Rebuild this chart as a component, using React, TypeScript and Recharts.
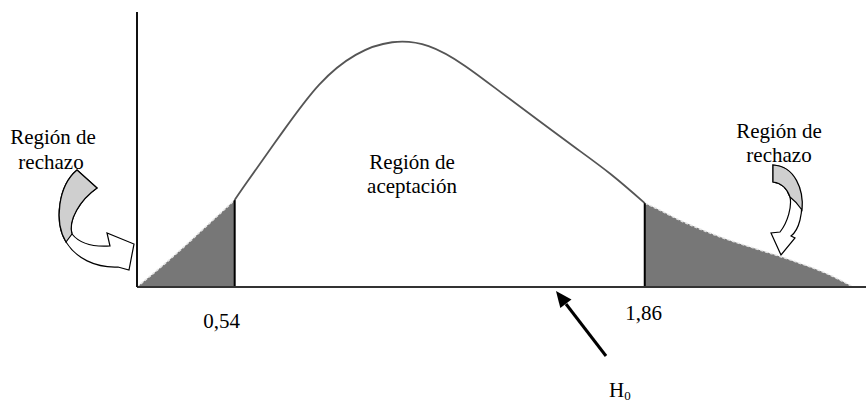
import {
  Area,
  ComposedChart,
  Line,
  ReferenceLine,
  XAxis,
  YAxis,
} from "recharts"

// position along the axis (abstract units) and curve height
const xs = [0, 1, 2, 2.68, 3, 4, 5, 6, 7, 8, 9, 10, 11, 12, 13, 13.93, 14, 15, 16, 17, 18, 19, 19.65]
const density = [0, 11.2, 23.3, 31.6, 37.8, 56.5, 73.6, 84.4, 89.0, 87.6, 80.4, 70.6, 60.7, 50.9, 41.0, 30.5, 30.1, 23.6, 18.2, 13.8, 9.5, 4.4, 0]

// critical values
const cutoffX = [2.68, 13.93]
const cutoffLabels = ["0,54", "1,86"]

const FONT = "'Liberation Serif', 'DejaVu Serif', serif"
const W = 866
const H = 405

const rows = xs.map((x, i) => ({
  x,
  left: x <= cutoffX[0] ? density[i] : null,
  mid: x >= cutoffX[0] && x <= cutoffX[1] ? density[i] : null,
  right: x >= cutoffX[1] ? density[i] : null,
}))

const heightAt = (x: number) => density[xs.indexOf(x)]

// small per-label nudges so the numbers sit where the original put them
const tickNudge = [
  { dx: -13, dy: 41 },
  { dx: -1, dy: 33 },
]

function CutoffTick(props: any) {
  const { x, y, index } = props
  const n = tickNudge[index] ?? { dx: 0, dy: 36 }
  return (
    <text
      x={x + n.dx}
      y={y + n.dy}
      textAnchor="middle"
      style={{ fontFamily: FONT, fontSize: 21 }}
      fill="#000"
    >
      {cutoffLabels[index]}
    </text>
  )
}

function Annotations() {
  const txt = { style: { fontFamily: FONT, fontSize: 21 }, fill: "#000", textAnchor: "middle" as const }
  return (
    <svg
      width={W}
      height={H}
      style={{ position: "absolute", left: 0, top: 0, pointerEvents: "none" }}
    >
      {/* left label + curled arrow */}
      <text {...txt} x={53} y={144}>Región de</text>
      <text {...txt} x={51} y={169}>rechazo</text>
      <path
        d="M 77 170 L 97 188 C 80 200 68 220 72 234 C 80 244 95 247 110 246 L 107 233 L 134 244 L 129 270 L 118 267 C 95 268 76 258 66 242 C 54 222 58 186 77 170 Z"
        fill="#fff"
        stroke="#000"
        strokeWidth={1.2}
      />
      <path
        d="M 77 170 L 97 188 C 80 200 68 220 72 234 L 66 242 C 54 222 58 186 77 170 Z"
        fill="#cfcfcf"
        stroke="#000"
        strokeWidth={1.2}
      />

      {/* centre label */}
      <text {...txt} x={412} y={169}>Región de</text>
      <text {...txt} x={412} y={193}>aceptación</text>

      {/* right label + curled arrow */}
      <text {...txt} x={779} y={138}>Región de</text>
      <text {...txt} x={779} y={162}>rechazo</text>
      <path
        d="M 773 165 C 795 166 806 195 800 220 C 798 228 795 233 791 236 L 795 238 L 781 255 L 771 233 L 780 232 C 788 222 792 206 790 197 C 787 188 781 183 773 182 Z"
        fill="#fff"
        stroke="#000"
        strokeWidth={1.2}
      />
      <path
        d="M 773 165 C 795 166 804 190 802 210 C 798 204 794 200 790 197 C 787 188 781 183 773 182 Z"
        fill="#cfcfcf"
        stroke="#000"
        strokeWidth={1.2}
      />

      {/* H0 pointer */}
      <line x1={606} y1={356} x2={566} y2={304} stroke="#000" strokeWidth={3} />
      <polygon points="556,291 571.5,299.4 560.3,308" fill="#000" />
      <text style={{ fontFamily: FONT, fontSize: 21 }} fill="#000" x={609} y={397}>
        H<tspan style={{ fontSize: 13 }} dy={3}>0</tspan>
      </text>
    </svg>
  )
}

export default function App() {
  return (
    <div style={{ position: "absolute", left: 0, top: 0, width: W, height: H, background: "#fff" }}>
      <ComposedChart
        width={W}
        height={H}
        data={rows}
        margin={{ top: 12, left: 136, right: 0, bottom: 117 }}
      >
        <XAxis
          dataKey="x"
          type="number"
          domain={[0, 20]}
          ticks={cutoffX}
          tick={<CutoffTick />}
          tickLine={false}
          tickSize={0}
          tickMargin={0}
          height={1}
          interval={0}
          axisLine={{ stroke: "#333", strokeWidth: 2 }}
        />
        <YAxis
          type="number"
          domain={[0, 100]}
          width={1}
          tick={false}
          tickLine={false}
          axisLine={{ stroke: "#111", strokeWidth: 2 }}
        />
        <Area
          type="monotone"
          dataKey="left"
          fill="#777"
          fillOpacity={1}
          stroke="#e4e4e4"
          strokeWidth={1.5}
          strokeDasharray="3 2"
          isAnimationActive={false}
        />
        <Area
          type="monotone"
          dataKey="right"
          fill="#777"
          fillOpacity={1}
          stroke="#e4e4e4"
          strokeWidth={1.5}
          strokeDasharray="3 2"
          isAnimationActive={false}
        />
        <Line
          type="natural"
          dataKey="mid"
          stroke="#555"
          strokeWidth={1.8}
          dot={false}
          isAnimationActive={false}
        />
        {cutoffX.map((c) => (
          <ReferenceLine
            key={c}
            segment={[
              { x: c, y: 0 },
              { x: c, y: heightAt(c) },
            ]}
            stroke="#000"
            strokeWidth={2}
          />
        ))}
      </ComposedChart>
      <Annotations />
    </div>
  )
}
